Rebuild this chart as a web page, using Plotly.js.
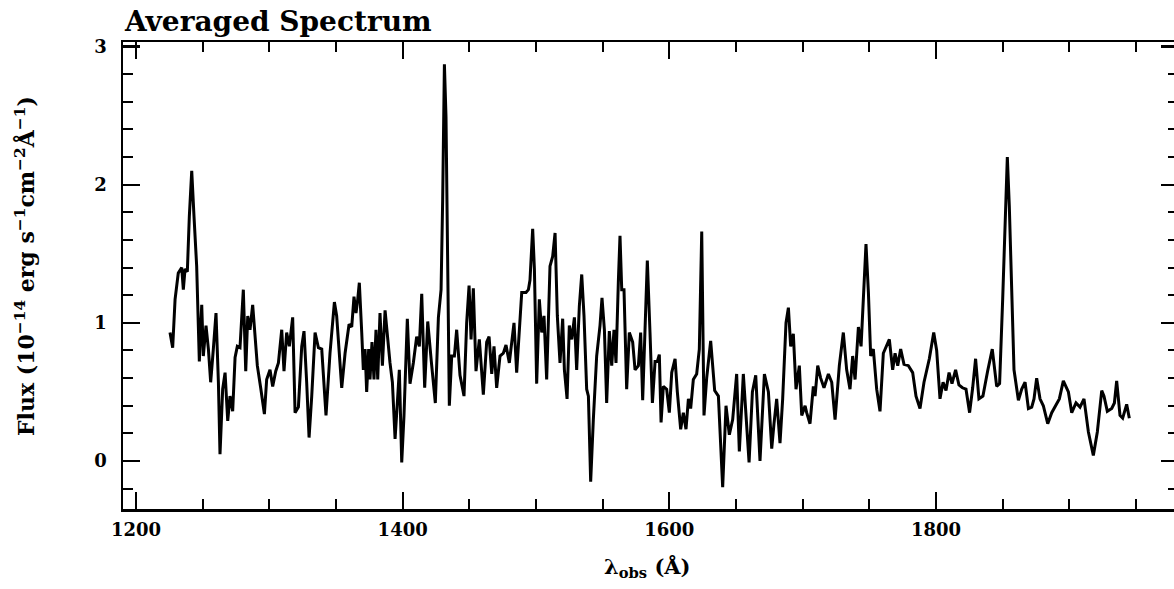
<!DOCTYPE html>
<html>
<head>
<meta charset="utf-8">
<script src="https://cdn.plot.ly/plotly-3.0.1.min.js"></script>
<style>
html,body{margin:0;padding:0;overflow:hidden;background:#fff;}
#chart{width:1178px;height:589px;}
</style>
</head>
<body>
<div id="chart"></div>
<script>
// Wavelength (Angstrom) and flux (1e-14 erg s^-1 cm^-2 A^-1)
const wavelength = [
1225.5,1227.5,1229.3,1231.7,1234.3,1235.5,1236.8,1238.5,1240.0,1241.8,1243.5,1245.5,1247.5,1249.3,1250.5,1252.5,1254.3,1256.0,1258.0,1260.0,
1261.8,1263.0,1265.0,1266.8,1268.8,1270.5,1272.5,1274.3,1276.0,1278.0,1280.5,1282.3,1283.8,1285.5,1287.5,1289.3,1291.0,1293.5,1296.3,1298.0,
1300.5,1302.5,1304.8,1306.8,1309.3,1311.0,1313.0,1315.0,1317.5,1319.3,1321.8,1324.3,1326.0,1328.0,1329.8,1331.8,1334.3,1336.8,1339.3,1342.5,
1345.5,1348.8,1350.5,1354.3,1356.8,1359.8,1361.8,1363.5,1365.0,1366.3,1367.5,1369.3,1370.5,1371.8,1373.0,1374.5,1375.5,1377.0,1378.5,1380.0,
1381.3,1383.0,1384.8,1386.8,1388.5,1390.5,1392.3,1394.3,1396.0,1397.5,1399.3,1401.0,1403.5,1405.5,1408.0,1410.5,1412.5,1414.3,1416.5,1418.8,
1421.5,1424.5,1426.8,1428.8,1430.0,1431.3,1432.5,1433.5,1435.0,1436.8,1438.8,1440.5,1443.0,1446.0,1448.0,1449.8,1451.3,1453.0,1455.0,1457.5,
1460.5,1463.0,1464.8,1466.8,1468.5,1470.5,1473.0,1475.5,1477.5,1480.0,1483.5,1485.5,1487.5,1489.3,1492.5,1494.3,1495.5,1497.5,1498.8,1500.5,
1502.5,1504.3,1506.0,1508.0,1510.5,1512.5,1514.3,1516.0,1518.0,1520.0,1521.3,1523.3,1525.0,1526.8,1528.8,1530.5,1532.5,1534.3,1536.0,1538.0,
1539.3,1541.0,1543.0,1545.5,1548.0,1549.5,1551.3,1553.0,1555.0,1556.8,1558.5,1560.0,1561.8,1563.0,1564.3,1566.0,1568.0,1570.0,1572.5,1574.3,
1576.8,1578.5,1580.0,1581.8,1583.5,1585.5,1587.3,1589.3,1591.0,1592.5,1593.8,1595.5,1598.0,1600.0,1601.8,1604.3,1606.0,1608.5,1610.5,1612.5,
1614.3,1616.0,1618.0,1620.5,1622.5,1624.3,1626.0,1628.0,1631.0,1634.0,1636.8,1640.0,1642.5,1645.0,1647.5,1650.5,1652.5,1655.5,1657.5,1659.8,
1662.3,1664.8,1668.0,1671.3,1674.3,1676.8,1678.5,1680.5,1683.0,1685.0,1687.5,1689.3,1691.0,1693.0,1695.0,1697.5,1699.3,1701.8,1703.0,1705.5,
1708.0,1709.3,1711.3,1713.5,1716.0,1719.3,1721.8,1724.3,1727.5,1730.5,1733.0,1735.5,1737.5,1739.3,1741.8,1743.8,1745.5,1747.5,1749.3,1751.0,
1753.0,1755.5,1758.0,1760.5,1765.0,1767.5,1769.3,1771.3,1773.5,1776.0,1779.3,1782.5,1785.0,1788.0,1791.0,1795.0,1798.3,1800.5,1803.0,1805.3,
1807.5,1809.8,1812.0,1814.7,1817.2,1819.8,1822.5,1825.2,1827.5,1829.7,1832.2,1835.2,1838.7,1842.2,1845.5,1847.7,1850.0,1851.8,1853.5,1855.0,
1856.8,1858.5,1861.8,1864.3,1866.8,1869.3,1871.8,1873.5,1875.5,1878.0,1880.5,1883.8,1886.8,1890.0,1892.5,1895.5,1899.3,1901.8,1905.0,1908.0,
1911.0,1914.3,1918.0,1921.0,1924.3,1926.0,1928.5,1931.8,1933.8,1935.5,1938.0,1940.0,1943.0,1945.0
];
const flux = [
0.93,0.82,1.17,1.36,1.40,1.24,1.39,1.37,1.77,2.10,1.77,1.41,0.72,1.13,0.76,0.98,0.81,0.57,0.81,1.07,
0.57,0.05,0.52,0.64,0.29,0.47,0.36,0.75,0.83,0.82,1.24,0.65,1.05,0.95,1.13,0.90,0.69,0.53,0.34,0.59,
0.66,0.54,0.65,0.71,0.95,0.65,0.93,0.83,1.04,0.35,0.39,0.83,0.94,0.57,0.17,0.47,0.93,0.82,0.81,0.33,
0.78,1.15,1.05,0.53,0.78,0.99,0.97,1.19,1.07,1.17,1.29,0.93,0.66,0.81,0.50,0.81,0.59,0.86,0.59,0.95,
0.59,1.07,0.69,1.09,0.90,0.71,0.57,0.16,0.42,0.66,-0.01,0.33,1.03,0.56,0.71,0.90,0.83,1.21,0.53,1.01,
0.72,0.42,1.04,1.24,1.89,2.87,2.49,1.53,0.40,0.76,0.76,0.95,0.62,0.47,1.00,1.27,0.88,1.25,0.65,0.88,
0.48,0.86,0.90,0.63,0.83,0.53,0.76,0.78,0.84,0.71,1.00,0.64,0.95,1.22,1.22,1.24,1.31,1.68,1.39,0.56,
1.17,0.93,1.05,0.59,1.41,1.48,1.65,1.05,0.71,1.03,0.66,0.45,0.98,0.88,1.04,0.66,1.12,1.35,1.05,0.52,
0.47,-0.15,0.30,0.76,0.98,1.18,0.95,0.42,0.94,0.69,0.95,0.71,1.31,1.63,1.24,1.24,0.52,0.93,0.86,0.66,
0.69,0.93,0.44,1.05,1.45,0.93,0.42,0.72,0.72,0.77,0.28,0.54,0.52,0.35,0.64,0.74,0.50,0.23,0.35,0.23,
0.45,0.38,0.59,0.63,0.81,1.66,0.33,0.60,0.87,0.51,0.47,-0.19,0.40,0.19,0.30,0.63,0.07,0.63,0.30,-0.01,
0.50,0.62,0.00,0.63,0.50,0.09,0.27,0.45,0.13,0.45,1.00,1.11,0.83,0.92,0.52,0.69,0.33,0.40,0.35,0.27,
0.54,0.47,0.69,0.60,0.53,0.63,0.57,0.30,0.69,0.93,0.66,0.52,0.76,0.59,0.97,0.83,1.17,1.57,1.22,0.76,
0.81,0.52,0.36,0.78,0.88,0.66,0.78,0.69,0.81,0.70,0.69,0.64,0.47,0.38,0.57,0.74,0.93,0.80,0.45,0.57,
0.51,0.64,0.56,0.66,0.55,0.53,0.52,0.35,0.53,0.74,0.45,0.47,0.65,0.81,0.54,0.56,1.17,1.77,2.20,1.84,
1.17,0.66,0.44,0.52,0.57,0.38,0.39,0.45,0.60,0.45,0.40,0.27,0.35,0.41,0.45,0.58,0.50,0.35,0.42,0.39,
0.45,0.21,0.04,0.21,0.51,0.47,0.36,0.38,0.42,0.58,0.33,0.31,0.41,0.31
];
const xTickVals = [1200, 1400, 1600, 1800];
const yTickVals = [0, 1, 2, 3];

const FONT = 'DejaVu Serif, Liberation Serif, serif';
const axisCommon = {
  showline: true, linecolor: '#000', linewidth: 2.5,
  ticks: 'inside', ticklen: 17, tickwidth: 2.2, tickcolor: '#000',
  mirror: 'allticks', showgrid: false, zeroline: false,
  tickfont: {family: FONT, size: 18, color: '#000', weight: 'bold'}
};

const trace = {
  x: wavelength, y: flux, type: 'scatter', mode: 'lines',
  line: {color: '#000', width: 3}, hoverinfo: 'skip'
};

const layout = {
  width: 1178, height: 589,
  margin: {l: 123, r: 0, t: 42, b: 80},
  paper_bgcolor: '#fff', plot_bgcolor: '#fff',
  showlegend: false,
  title: {
    text: 'Averaged Spectrum', xref: 'container', x: 125/1178, xanchor: 'left',
    yref: 'container', y: 1 - 21/589, yanchor: 'middle',
    font: {family: FONT, size: 28, color: '#000', weight: 'bold'}
  },
  xaxis: Object.assign({}, axisCommon, {
    range: [1190.25, 1981.5], tickvals: xTickVals, ticktext: xTickVals.map(String),
    minor: {dtick: 50, tick0: 1200, ticks: 'inside', ticklen: 10, tickwidth: 2, tickcolor: '#000', showgrid: false},
    ticklabelstandoff: 3
  }),
  yaxis: Object.assign({}, axisCommon, {
    range: [-0.347, 3.032], tickvals: yTickVals, ticktext: yTickVals.map(String),
    minor: {dtick: 0.2, tick0: 0, ticks: 'inside', ticklen: 10, tickwidth: 2, tickcolor: '#000', showgrid: false},
    ticklabelstandoff: 10
  }),
  annotations: [
    {text: 'λ<sub>obs</sub> (Å)', xref: 'paper', yref: 'paper',
     x: (647 - 123) / 1055, y: -(567 - 509) / 467, xanchor: 'center', yanchor: 'middle',
     showarrow: false, font: {family: FONT, size: 21, color: '#000', weight: 'bold'}},
    {text: 'Flux (10<sup>−14</sup> erg s<sup>−1</sup>cm<sup>−2</sup>Å<sup>−1</sup>)', xref: 'paper', yref: 'paper',
     x: (25 - 123) / 1055, y: (509 - 266) / 467, xanchor: 'center', yanchor: 'middle', textangle: -90,
     showarrow: false, font: {family: FONT, size: 22, color: '#000', weight: 'bold'}}
  ]
};

Plotly.newPlot('chart', [trace], layout, {staticPlot: true, displayModeBar: false});
</script>
</body>
</html>
